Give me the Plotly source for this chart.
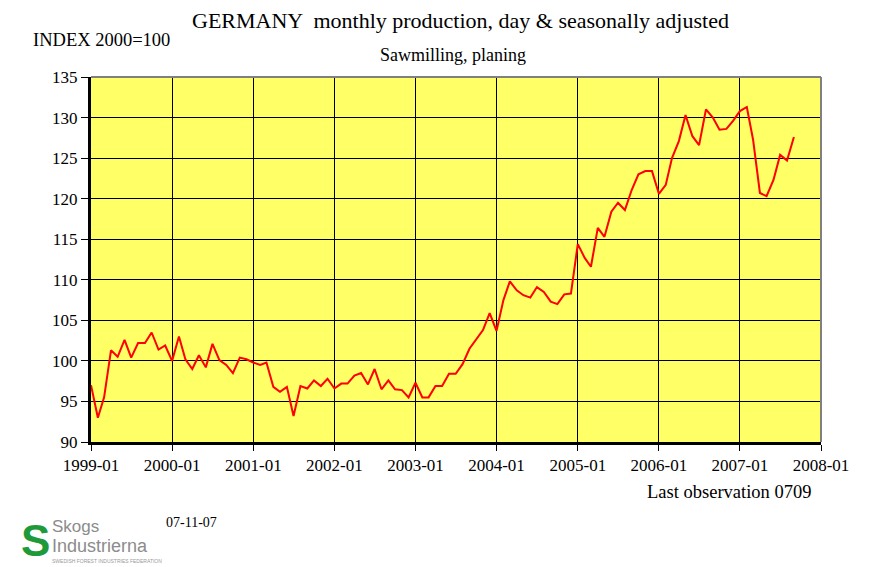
import plotly.graph_objects as go
import pandas as pd

# Monthly index values, 1999-01 .. 2007-09 (INDEX 2000=100)
values = [
    97.0, 93.0, 95.5, 101.3, 100.5, 102.6, 100.4, 102.2, 102.2, 103.5, 101.4, 101.9,   # 1999
    100.0, 103.0, 100.2, 99.0, 100.7, 99.2, 102.1, 100.1, 99.5, 98.5, 100.4, 100.2,    # 2000
    99.8, 99.5, 99.8, 96.8, 96.2, 96.8, 93.2, 96.9, 96.6, 97.6, 96.9, 97.8,            # 2001
    96.6, 97.2, 97.2, 98.2, 98.5, 97.1, 99.0, 96.5, 97.6, 96.5, 96.4, 95.5,            # 2002
    97.3, 95.5, 95.5, 96.9, 96.9, 98.4, 98.4, 99.6, 101.5, 102.7, 103.8, 105.9,        # 2003
    103.7, 107.5, 109.8, 108.7, 108.1, 107.8, 109.1, 108.5, 107.3, 107.0, 108.2, 108.3, # 2004
    114.4, 112.7, 111.6, 116.4, 115.3, 118.4, 119.5, 118.6, 121.1, 123.0, 123.4, 123.4, # 2005
    120.6, 121.7, 125.0, 127.1, 130.3, 127.7, 126.6, 131.0, 130.0, 128.5, 128.6, 129.6, # 2006
    130.8, 131.3, 127.3, 120.7, 120.3, 122.3, 125.4, 124.7, 127.6,                      # 2007
]
months = pd.date_range("1999-01-01", periods=len(values), freq="MS")

x_ticks = pd.date_range("1999-01-01", "2008-01-01", freq="YS")
x_tick_labels = [d.strftime("%Y-%m") for d in x_ticks]
y_ticks = [90, 95, 100, 105, 110, 115, 120, 125, 130, 135]

title_text = "GERMANY  monthly production, day & seasonally adjusted"
subtitle_text = "Sawmilling, planing"
unit_text = "INDEX 2000=100"
note_text = "Last observation 0709"
date_text = "07-11-07"

serif = "Liberation Serif, Times New Roman, serif"
sans_narrow = "Liberation Sans Narrow, Liberation Sans, sans-serif"

# plot area in screen pixels: x 91..821, y 77..442 (page has 8px body offset)
def px(x):
    return (x - 91) / 730.0

def py(y):
    return (442 - y) / 365.0

fig = go.Figure()
fig.add_trace(go.Scatter(
    x=months, y=values, mode="lines",
    line=dict(color="#FF0000", width=2),
    showlegend=False, hoverinfo="x+y",
))

def ann(text, x, y, xanchor, size, family=serif, color="black"):
    return dict(text=text, xref="paper", yref="paper", x=px(x), y=py(y),
                xanchor=xanchor, yanchor="middle", showarrow=False, borderpad=0,
                font=dict(family=family, size=size, color=color))

fig.update_layout(
    width=884, height=567,
    margin=dict(l=83, r=71, t=69, b=133, autoexpand=False),
    paper_bgcolor="white",
    plot_bgcolor="#FFFF66",
    font=dict(family=serif, size=16, color="black"),
    xaxis=dict(
        range=[x_ticks[0], x_ticks[-1]],
        tickvals=list(x_ticks), ticktext=x_tick_labels,
        showgrid=True, gridcolor="black", gridwidth=1,
        showline=True, linecolor="black", linewidth=3,
        ticks="outside", ticklen=6, tickcolor="black", tickwidth=1,
        tickfont=dict(family=serif, size=17, color="black"),
        zeroline=False, automargin=False,
    ),
    yaxis=dict(
        range=[90, 135],
        tickvals=y_ticks, ticktext=[str(v) for v in y_ticks],
        showgrid=True, gridcolor="black", gridwidth=1,
        showline=True, linecolor="black", linewidth=3,
        ticks="outside", ticklen=7, tickcolor="black", tickwidth=1,
        tickfont=dict(family=serif, size=17, color="black"),
        zeroline=False, automargin=False,
    ),
    shapes=[
        dict(type="line", xref="paper", yref="paper", x0=0, x1=1, y0=1, y1=1,
             line=dict(color="#808080", width=2), layer="above"),
        dict(type="line", xref="paper", yref="paper", x0=1, x1=1, y0=0, y1=1,
             line=dict(color="#808080", width=2), layer="above"),
    ],
    annotations=[
        ann(title_text, 460, 20, "center", 22),
        ann(unit_text, 32, 40, "left", 18.5),
        ann(subtitle_text, 453, 55, "center", 18),
        ann(note_text, 812, 492, "right", 18.5),
        ann(date_text, 165, 522, "left", 14),
        # logo
        ann("<b>S</b>", 35, 540, "center", 44, family=sans_narrow, color="#1E9A3A"),
        ann("Skogs", 51, 526, "left", 17, family=sans_narrow, color="#8C8C8C"),
        ann("Industrierna", 51, 546, "left", 18, family=sans_narrow, color="#8C8C8C"),
        ann("SWEDISH FOREST INDUSTRIES FEDERATION", 51, 561, "left", 5,
            family=sans_narrow, color="#9A9A9A"),
    ],
)

fig.write_html("out.html")
